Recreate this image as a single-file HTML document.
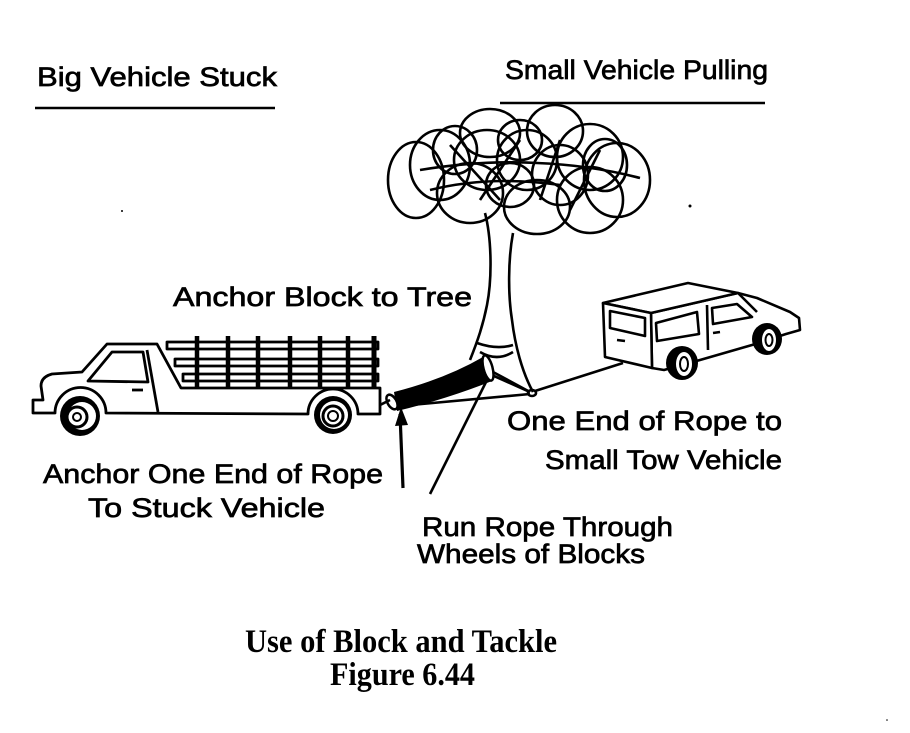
<!DOCTYPE html>
<html><head><meta charset="utf-8"><style>
html,body{margin:0;padding:0;background:#fff;}
svg{display:block;}
.t{font-family:"Liberation Sans",sans-serif;font-size:27px;fill:#000;stroke:#000;stroke-width:0.7px;}
.c{font-family:"Liberation Serif",serif;font-weight:bold;font-size:33px;fill:#000;}
</style></head><body>
<svg width="910" height="733" viewBox="0 0 910 733" xmlns="http://www.w3.org/2000/svg">
<rect width="910" height="733" fill="#fff"/>

<!-- headings -->
<text class="t" x="37" y="86" textLength="240" lengthAdjust="spacingAndGlyphs">Big Vehicle Stuck</text>
<line x1="35" y1="108" x2="275" y2="108" stroke="#000" stroke-width="2.4"/>
<text class="t" x="505" y="79" textLength="263" lengthAdjust="spacingAndGlyphs">Small Vehicle Pulling</text>
<line x1="500" y1="103" x2="765" y2="103" stroke="#000" stroke-width="2.4"/>

<!-- tree canopy -->
<g fill="none" stroke="#000" stroke-width="2.6">
<ellipse cx="416" cy="180" rx="28" ry="38"/>
<ellipse cx="440" cy="165" rx="30" ry="35"/>
<ellipse cx="490" cy="133" rx="30" ry="24"/>
<ellipse cx="555" cy="131" rx="28" ry="26"/>
<ellipse cx="590" cy="157" rx="33" ry="33"/>
<ellipse cx="617" cy="180" rx="33" ry="37"/>
<ellipse cx="590" cy="200" rx="33" ry="33"/>
<ellipse cx="537" cy="207" rx="33" ry="27"/>
<ellipse cx="470" cy="193" rx="33" ry="30"/>
<ellipse cx="487" cy="160" rx="33" ry="30"/>
<ellipse cx="527" cy="160" rx="30" ry="30"/>
<ellipse cx="560" cy="175" rx="28" ry="30"/>
<ellipse cx="455" cy="150" rx="22" ry="24"/>
<ellipse cx="510" cy="185" rx="24" ry="22"/>
<ellipse cx="605" cy="165" rx="22" ry="26"/>
<ellipse cx="520" cy="140" rx="22" ry="20"/>
<path d="M420,170 Q480,160 537,163 Q590,165 640,178"/>
<path d="M430,190 Q490,175 560,185"/>
<path d="M450,145 L500,200 M520,140 L480,200 M560,140 L540,200 M600,150 L570,210"/>
</g>

<!-- trunk -->
<g fill="none" stroke="#000" stroke-width="2.6">
<path d="M485,213 C492,240 492,280 487,305 C483,325 478,340 470,360"/>
<path d="M513,233 C508,260 508,295 512,320 C515,345 522,372 533,392"/>
<path d="M477,343 Q497,350 513,345"/>
<path d="M480,352 Q497,362 513,352"/>
<path d="M493,372 L530,392"/>
</g>

<!-- rope bundle & blocks -->
<path d="M394,392 Q445,379 483,357 L492,381 Q447,399 397,411 Z" fill="#000"/>
<ellipse cx="488" cy="368" rx="4.5" ry="13" transform="rotate(-15 488 368)" fill="#fff" stroke="#000" stroke-width="2.5"/>
<ellipse cx="392" cy="402" rx="4.5" ry="8" transform="rotate(-30 392 402)" fill="#fff" stroke="#000" stroke-width="2.5"/>
<g fill="none" stroke="#000" stroke-width="2.6">
<line x1="400" y1="406" x2="530" y2="394"/>
<line x1="535" y1="391" x2="623" y2="363"/>
<line x1="494" y1="376" x2="530" y2="392"/>
<ellipse cx="532" cy="393" rx="4" ry="3"/>
<line x1="380" y1="405" x2="390" y2="400"/>
<!-- pointer lines -->
<line x1="487" y1="380" x2="430" y2="494" stroke-width="2.6"/>
<line x1="400" y1="414" x2="403" y2="488" stroke-width="3.2"/>
</g>
<path d="M401,407 L395,426 L408,425 Z" fill="#000"/>

<!-- big truck -->
<g stroke="#000" stroke-width="2.8" fill="#fff" stroke-linejoin="round">
<path d="M43,400 L33,400 L33,413 L55,413 A25,25 0 0 1 106,413 L308,414 A25,25 0 0 1 358,414 L380,414 L380,388 L181,388 L157,344 L107,344 L82,372 L52,374 Q41,377 41,386 Z"/>
<path d="M88,381 L112,352 L143,352 L148,382 Z" fill="none"/>
<line x1="147" y1="350" x2="158" y2="412"/>
<line x1="132" y1="390" x2="143" y2="390"/>
<rect x="167" y="342" width="211" height="7"/>
<rect x="175" y="359" width="203" height="7"/>
<rect x="183" y="374" width="195" height="7"/>
</g>
<g stroke="#000" stroke-width="4.5">
<line x1="197" y1="336" x2="197" y2="388"/>
<line x1="228" y1="336" x2="228" y2="388"/>
<line x1="258" y1="336" x2="258" y2="388"/>
<line x1="290" y1="336" x2="290" y2="388"/>
<line x1="320" y1="336" x2="320" y2="388"/>
<line x1="348" y1="336" x2="348" y2="388"/>
<line x1="374" y1="336" x2="374" y2="388" stroke-width="5"/>
</g>
<!-- truck wheels -->
<g>
<circle cx="80" cy="416" r="20" fill="#000"/>
<circle cx="82" cy="416" r="14" fill="#fff"/>
<circle cx="77" cy="417" r="10" fill="none" stroke="#000" stroke-width="3"/>
<circle cx="77" cy="417" r="4" fill="none" stroke="#000" stroke-width="2"/>
<circle cx="333" cy="415" r="19" fill="#000"/>
<circle cx="334" cy="415" r="14" fill="#fff"/>
<circle cx="333" cy="416" r="10" fill="none" stroke="#000" stroke-width="3"/>
<circle cx="333" cy="416" r="5" fill="none" stroke="#000" stroke-width="2"/>
</g>

<!-- small vehicle -->
<g stroke="#000" stroke-width="2.6" fill="#fff" stroke-linejoin="round">
<path d="M651,313 L738,293 L757,298 L790,312 L799,318 L800,330 L786,334 L752,345 L700,360 L664,370 L652,368 Z"/>
<path d="M603,303 L688,283 L738,293 L651,313 Z"/>
<path d="M603,303 L651,313 L652,368 L605,357 Z"/>
<path d="M610,311 L645,318 L645,336 L610,328 Z" fill="none"/>
<path d="M656,323 L697,312 L699,334 L657,341 Z" fill="none"/>
<path d="M712,308 L737,304 L752,317 L713,324 Z" fill="none"/>
<line x1="707" y1="305" x2="708" y2="350"/>
<line x1="738" y1="293" x2="757" y2="312"/>
<line x1="713" y1="333" x2="720" y2="332"/>
<line x1="617" y1="340" x2="625" y2="341"/>
</g>
<g>
<ellipse cx="682" cy="363" rx="16" ry="17" fill="#000"/>
<ellipse cx="684" cy="364" rx="8" ry="12" fill="#fff"/>
<ellipse cx="684" cy="364" rx="4" ry="7" fill="none" stroke="#000" stroke-width="2"/>
<ellipse cx="767" cy="339" rx="15" ry="16" fill="#000"/>
<ellipse cx="769" cy="340" rx="7" ry="11" fill="#fff"/>
<ellipse cx="769" cy="340" rx="3.5" ry="6" fill="none" stroke="#000" stroke-width="2"/>
</g>

<!-- labels -->
<text class="t" x="173" y="306" textLength="299" lengthAdjust="spacingAndGlyphs">Anchor Block to Tree</text>
<text class="t" x="507" y="430" textLength="275" lengthAdjust="spacingAndGlyphs">One End of Rope to</text>
<text class="t" x="545" y="469" textLength="237" lengthAdjust="spacingAndGlyphs">Small Tow  Vehicle</text>
<text class="t" x="43" y="483" textLength="340" lengthAdjust="spacingAndGlyphs">Anchor One End of Rope</text>
<text class="t" x="88" y="517" textLength="237" lengthAdjust="spacingAndGlyphs">To Stuck Vehicle</text>
<text class="t" x="422" y="536" textLength="251" lengthAdjust="spacingAndGlyphs">Run Rope Through</text>
<text class="t" x="417" y="563" textLength="228" lengthAdjust="spacingAndGlyphs">Wheels of Blocks</text>

<text class="c" x="245" y="652" textLength="312" lengthAdjust="spacingAndGlyphs">Use of Block and Tackle</text>
<text class="c" x="330" y="685" textLength="145" lengthAdjust="spacingAndGlyphs">Figure 6.44</text>

<!-- specks -->
<circle cx="122" cy="211" r="1" fill="#000"/>
<circle cx="690" cy="206" r="1.5" fill="#000"/>
<circle cx="887" cy="720" r="0.8" fill="#000"/>
</svg>
</body></html>
